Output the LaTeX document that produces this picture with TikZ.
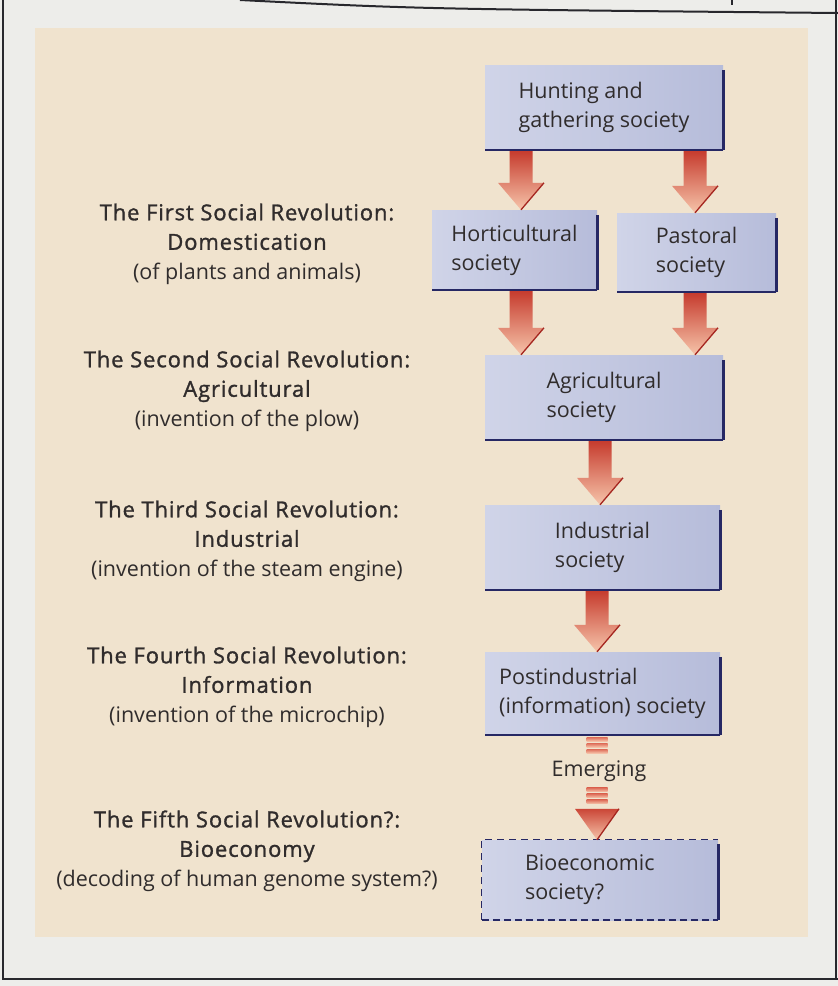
\documentclass[tikz,border=0pt]{standalone}
\usepackage{fontspec}
\setmainfont{Open Sans}
\newfontface\headfont{Open Sans}[FakeBold=1.3, LetterSpace=4]
\usetikzlibrary{calc}
\definecolor{pagebg}{RGB}{237,237,234}
\definecolor{panel}{RGB}{240,227,206}
\definecolor{boxL}{RGB}{208,212,232}
\definecolor{boxR}{RGB}{182,188,218}
\definecolor{navy}{RGB}{38,40,100}
\definecolor{arrTop}{RGB}{198,60,46}
\definecolor{arrMid}{RGB}{222,110,90}
\definecolor{arrBot}{RGB}{246,196,170}
\definecolor{arrEdge}{RGB}{165,38,32}
\definecolor{txt}{RGB}{48,44,44}
\definecolor{frameC}{RGB}{40,40,45}
\tikzset{
  socbox/.style={rectangle, inner sep=0pt, left color=boxL, right color=boxR,
    text=txt, align=left, font=\fontsize{21.5}{29}\selectfont},
  revtext/.style={align=center, text=txt, inner sep=0pt, font=\fontsize{21.5}{29.5}\selectfont},
  boxedge/.style={navy, line width=2.6pt},
  boxedgeb/.style={navy, line width=1.6pt},
}
\newcommand\hd[1]{{\fontsize{22}{29.5}\headfont #1}}
\newcommand\redarrow[3]{%
  \coordinate (s) at (#2.south -| #1);
  \coordinate (e) at (#3.north -| #1);
  \shade[top color=arrTop, middle color=arrMid, bottom color=arrBot]
    ($(s)+(-11.5,1)$) -- ($(s)+(11.5,1)$) -- ($(e)+(11.5,-27)$) -- ($(e)+(23,-27)$)
    -- (e) -- ($(e)+(-23,-27)$) -- ($(e)+(-11.5,-27)$) -- cycle;
  \draw[arrEdge, line width=1.3pt] ($(e)+(23,-27)$) -- (e);
}
\begin{document}
\begin{tikzpicture}[x=1pt,y=-1pt]
\useasboundingbox (0,0) rectangle (838,986);
\fill[pagebg] (0,0) rectangle (838,986);
% frame
\draw[frameC, line width=2.5pt] (3,0) -- (3,979) -- (838,979);
\draw[frameC, line width=2pt] (836,0) -- (836,979);
\draw[frameC, line width=2pt] (240,0) .. controls (420,9) .. (838,13);
\draw[frameC, line width=1.5pt] (732,0) -- (732,5);
% panel
\fill[panel] (35,28) rectangle (808,937);

% society boxes
\node[socbox, minimum width=238, minimum height=85] (hunt) at (604,107.5) {Hunting and\\gathering society};
\node[socbox, minimum width=165, minimum height=80] (hort) at (514.5,250) {Horticultural\\society};
\node[socbox, minimum width=159, minimum height=79] (past) at (696.5,252.5) {Pastoral\\society};
\node[socbox, minimum width=238, minimum height=85] (agri) at (604,397.5) {Agricultural\\society};
\node[socbox, minimum width=235, minimum height=85] (ind) at (602.5,547.5) {Industrial\\society};
\node[socbox, minimum width=235, minimum height=83] (post) at (602.5,693.5) {Postindustrial\\(information) society};
\node[socbox, minimum width=236, minimum height=80, text width=150] (bio) at (600,880) {Bioeconomic\\society?};

\foreach \b in {hunt,hort,past,agri,ind,post}{
  \draw[boxedge] ($(\b.north east)+(0,5)$) -- (\b.south east);
  \draw[boxedgeb] (\b.south east) -- (\b.south west);
}
\draw[navy, line width=1.3pt, dash pattern=on 7pt off 5pt] (bio.south west) -- (bio.north west) -- (bio.north east);
\draw[navy, line width=2.2pt, dash pattern=on 7pt off 4pt] (bio.south west) -- (bio.south east);
\draw[boxedge] ($(bio.north east)+(0,4)$) -- (bio.south east);

% columns
\coordinate (cA) at (521,0);
\coordinate (cB) at (695,0);
\coordinate (cC) at (600,0);
\coordinate (cD) at (597,0);

\redarrow{cA}{hunt}{hort}
\redarrow{cB}{hunt}{past}
\redarrow{cA}{hort}{agri}
\redarrow{cB}{past}{agri}
\redarrow{cC}{agri}{ind}
\redarrow{cD}{ind}{post}

% emerging
\node[text=txt, font=\fontsize{21.5}{24}\selectfont, inner sep=0pt] (emg) at (599,771) {Emerging};
\foreach \k in {0,1,2}{
  \shade[top color=arrMid, bottom color=arrBot] ($(post.south -| cD)+(-10.5,2+6*\k)$) rectangle +(21,4);
  \shade[top color=arrMid, bottom color=arrBot] ($(bio.north -| cD)+(-10.5,-52+6*\k)$) rectangle +(21,4);
}
\coordinate (et) at (bio.north -| cD);
\shade[top color=arrTop!80!arrMid, bottom color=arrBot] ($(et)+(-22,-31)$) -- ($(et)+(22,-31)$) -- (et) -- cycle;
\draw[arrEdge, line width=1.3pt] ($(et)+(22,-31)$) -- (et);

% revolutions
\node[revtext] (rev1) at (247,244) {\hd{The First Social Revolution:}\\\hd{Domestication}\\(of plants and animals)};
\node[revtext] (rev2) at (247,391) {\hd{The Second Social Revolution:}\\\hd{Agricultural}\\(invention of the plow)};
\node[revtext] (rev3) at (247,541) {\hd{The Third Social Revolution:}\\\hd{Industrial}\\(invention of the steam engine)};
\node[revtext] (rev4) at (247,687) {\hd{The Fourth Social Revolution:}\\\hd{Information}\\(invention of the microchip)};
\node[revtext] (rev5) at (247,851) {\hd{The Fifth Social Revolution?:}\\\hd{Bioeconomy}\\(decoding of human genome system?)};
\end{tikzpicture}
\end{document}
